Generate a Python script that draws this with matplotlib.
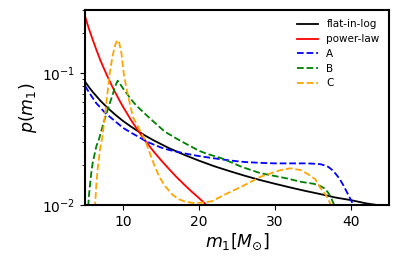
import numpy as np
import matplotlib
matplotlib.use('Agg')
import matplotlib.pyplot as plt

# primary mass grid points
m_flat = [5, 5.6, 6, 7, 8, 9, 10, 11, 12, 13, 14, 16, 18, 20, 22, 24, 26, 28, 30,
          32, 34, 36, 38, 40, 42, 44, 45]
p_flat = [0.0862, 0.0772, 0.0722, 0.0620, 0.0543, 0.0483, 0.0434, 0.0395, 0.0362,
          0.0334, 0.0310, 0.0271, 0.0241, 0.0217, 0.0197, 0.0181, 0.0167, 0.0155,
          0.0145, 0.0136, 0.0128, 0.0121, 0.0114, 0.0109, 0.0103, 0.0099, 0.0097]

m_pow = [5, 5.5, 6, 6.5, 7, 7.5, 8, 8.5, 9, 9.5, 10, 11, 12, 13, 14, 15, 16, 17,
         18, 19, 20, 21, 22]
p_pow = [0.270, 0.218, 0.180, 0.150, 0.126, 0.108, 0.093, 0.081, 0.071, 0.0626,
         0.0556, 0.0446, 0.0365, 0.0304, 0.0256, 0.0219, 0.0189, 0.0164, 0.0144,
         0.0127, 0.0113, 0.0100, 0.0091]

m_A = [5, 5.5, 6, 6.5, 7, 7.5, 8, 9, 10, 11, 12, 13, 14, 15, 16, 18, 20, 22, 24,
       26, 28, 30, 32, 34, 35, 36, 36.5, 37, 37.5, 38, 38.5, 39, 39.5, 40, 40.3, 40.6]
p_A = [0.080, 0.072, 0.065, 0.059, 0.055, 0.051, 0.048, 0.043, 0.0385, 0.0355,
       0.033, 0.0305, 0.0288, 0.0273, 0.0262, 0.0247, 0.0235, 0.0226, 0.0218,
       0.0212, 0.0209, 0.0207, 0.0207, 0.0207, 0.0206, 0.0204, 0.0200, 0.0195,
       0.0185, 0.0172, 0.0158, 0.0141, 0.0124, 0.0109, 0.0100, 0.0090]

m_B = [5.3, 5.5, 5.8, 6.0, 6.5, 6.8, 7.0, 7.5, 8.0, 8.5, 9.0, 9.3, 9.6, 10, 10.5,
       11, 11.5, 12, 13, 14, 15.5, 17, 18.2, 20, 21, 23, 25.6, 28, 30, 31.6, 33.4,
       35.1, 36, 36.5, 37, 37.3, 37.6, 37.8, 38]
p_B = [0.007, 0.0115, 0.0170, 0.0207, 0.028, 0.031, 0.034, 0.043, 0.053, 0.065,
       0.080, 0.0875, 0.083, 0.0765, 0.070, 0.064, 0.059, 0.055, 0.0485, 0.043,
       0.036, 0.032, 0.0293, 0.0258, 0.0245, 0.0226, 0.0195, 0.0175, 0.0166,
       0.0159, 0.0150, 0.0145, 0.0139, 0.0134, 0.0124, 0.0116, 0.0106, 0.0100,
       0.0094]

m_C = [6.2, 6.35, 6.5, 6.7, 7.0, 7.3, 7.6, 7.9, 8.25, 8.5, 8.7, 9.0, 9.26, 9.5,
       9.8, 10.1, 10.4, 10.7, 11.3, 12.2, 12.9, 13.5, 14.2, 14.8, 15.5, 16.5,
       17.3, 18.2, 19.1, 20, 20.8, 21.7, 23, 23.5, 25.6, 28.1, 30.7, 32, 33.4,
       34.5, 35.3, 36, 36.7, 37.3, 37.6]
p_C = [0.008, 0.0105, 0.0145, 0.0195, 0.027, 0.033, 0.0467, 0.066, 0.099, 0.122,
       0.141, 0.165, 0.178, 0.170, 0.141, 0.099, 0.080, 0.066, 0.0467, 0.037,
       0.031, 0.025, 0.0195, 0.0163, 0.0140, 0.0120, 0.0111, 0.0106, 0.0104,
       0.0104, 0.0105, 0.0107, 0.0117, 0.0121, 0.0138, 0.0164, 0.0184, 0.0190,
       0.0184, 0.0169, 0.0157, 0.0134, 0.0119, 0.0102, 0.0095]

fig = plt.figure(figsize=(3.99, 2.66), dpi=100)
ax = fig.add_axes([0.213, 0.229, 0.762, 0.733])

ax.semilogy(m_flat, p_flat, color='black', lw=1.3, label='flat-in-log')
ax.semilogy(m_pow, p_pow, color='red', lw=1.3, label='power-law')
ax.semilogy(m_A, p_A, '--', color='blue', lw=1.3, label='A')
ax.semilogy(m_B, p_B, '--', color='green', lw=1.3, label='B')
ax.semilogy(m_C, p_C, '--', color='orange', lw=1.3, label='C')

ax.set_xlim(5, 45)
ax.set_ylim(0.01, 0.3)
ax.set_xticks([10, 20, 30, 40])
ax.tick_params(labelsize=10)
for s in ax.spines.values():
    s.set_linewidth(1.5)

ax.set_xlabel(r'$m_1[M_{\odot}]$', fontsize=12.5, labelpad=2)
ax.set_ylabel(r'$p(m_1)$', fontsize=12.5, labelpad=2)
ax.legend(loc='upper right', frameon=False, fontsize=7.5, labelspacing=0.45)

fig.savefig('out.png', dpi=100)
